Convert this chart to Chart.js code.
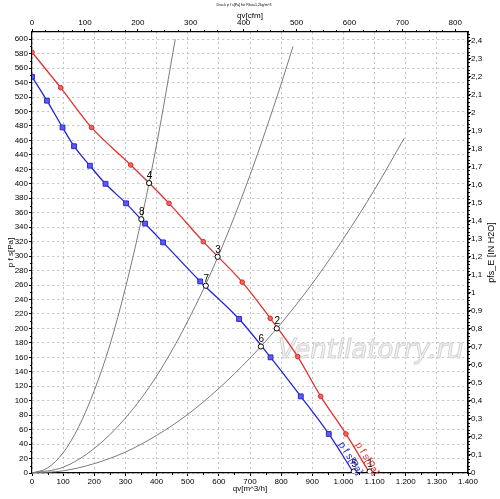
<!DOCTYPE html>
<html><head><meta charset="utf-8">
<script src="https://cdn.jsdelivr.net/npm/chart.js@4.4.1/dist/chart.umd.min.js"></script>
<style>html,body{margin:0;padding:0;background:#fff}#wrap{width:500px;height:499px;position:relative}</style>
</head><body><div id="wrap"><canvas id="c"></canvas></div>
<script>
// ---- data ----
const redQ = [0, 92, 191, 317, 440, 550, 675, 765, 853, 927, 1008, 1084];
const redP = [582, 533, 478, 426, 373, 320, 264, 214, 161, 106, 54, 0];
const blueQ = [0, 48, 98, 135, 186, 236, 302, 363, 421, 540, 665, 766, 863, 953, 1033];
const blueP = [548, 515, 478, 452, 425, 400, 373, 345, 319, 265, 213, 160, 106, 54, 0];
const sys1Q = [0, 50, 100, 150, 200, 250, 300, 350, 400, 460];
const sys1P = [0, 7, 28, 64, 114, 177, 256, 348, 454, 600];
const sys2Q = [0, 100, 200, 300, 400, 500, 600, 700, 800, 838];
const sys2P = [0, 8, 34, 76, 134, 210, 302, 412, 538, 590];
const sys3Q = [0, 100, 200, 300, 400, 500, 600, 700, 800, 900, 1000, 1100, 1195];
const sys3P = [0, 3, 13, 29, 52, 81, 117, 159, 207, 262, 324, 392, 463];
const opQ = [1084, 786, 596, 376, 1033, 735, 558, 351];
const opP = [2, 200, 299, 401, 2, 175, 259, 351];
const opLabels = ['1', '2', '3', '4', '5', '6', '7', '8'];
const curveLabels = ['p f s[Pa]', 'p f s[Pa]'];
const titleText = 'Druck p f s[Pa] für Rho=1,2kg/m^3';
const xTitle = 'qv[m^3/h]';
const x2Title = 'qv[cfm]';
const yTitle = 'p f s[Pa]';
const y2Title = 'pfs_E [IN H2O]';
const watermark = 'Ventilatorry.ru';

const PA_PER_INH2O = 249.089;
const M3H_PER_CFM = 1.69901;
const Q_MAX = 1400, P_MAX = 610;

const zip = (a, b) => a.map((v, i) => ({x: v, y: b[i]}));
const FONT = '"Liberation Sans", Arial, sans-serif';
Chart.defaults.font.family = FONT;
Chart.defaults.font.size = 8;
Chart.defaults.color = '#000';

const RED = '#e3302c', BLUE = '#2424d6', GREY = '#7a7a7a';

const fmtQ = v => v >= 1000 ? (Math.floor(v / 1000) + '.' + String(v % 1000).padStart(3, '0')) : String(v);

const overlay = {
  id: 'overlay',
  beforeDatasetsDraw(chart) {
    const ctx = chart.ctx;
    ctx.save();
    ctx.font = 'italic 26px "DejaVu Sans", sans-serif';
    ctx.textBaseline = 'alphabetic';
    ctx.fillStyle = '#f3f3f3';
    ctx.strokeStyle = '#d4d4d4';
    ctx.lineWidth = 1;
    ctx.fillText(watermark, 278, 358);
    ctx.strokeText(watermark, 278, 358);
    ctx.restore();
  },
  afterDatasetsDraw(chart) {
    const ctx = chart.ctx;
    ctx.save();
    const opMeta = chart.getDatasetMeta(0);
    ctx.font = '10px ' + FONT;
    ctx.fillStyle = '#000';
    ctx.textAlign = 'center';
    ctx.textBaseline = 'middle';
    opMeta.data.forEach((pt, i) => {
      ctx.fillText(opLabels[i], pt.x + 0.5, pt.y - 7);
    });
    [[1, RED], [2, BLUE]].forEach(([di, col], k) => {
      const pts = chart.getDatasetMeta(di).data;
      const a = pts[pts.length - 2], b = pts[pts.length - 1];
      const ang = Math.atan2(b.y - a.y, b.x - a.x);
      const ax = a.x + 0.3 * (b.x - a.x), ay = a.y + 0.3 * (b.y - a.y);
      ctx.save();
      ctx.translate(ax, ay);
      ctx.rotate(ang);
      ctx.font = '10px ' + FONT;
      ctx.fillStyle = col;
      ctx.textAlign = 'left';
      ctx.textBaseline = 'alphabetic';
      ctx.fillText(curveLabels[k], 0, -2.5);
      ctx.restore();
    });
    ctx.restore();
  },
  afterDraw(chart) {
    const ctx = chart.ctx;
    const {x, x2, y, y2} = chart.scales;
    const ca = chart.chartArea;
    ctx.save();
    ctx.strokeStyle = '#000';
    ctx.lineWidth = 1;
    ctx.beginPath();
    for (let v = 10; v < P_MAX; v += 20) {
      const py = Math.round(y.getPixelForValue(v)) + 0.5;
      ctx.moveTo(ca.left, py); ctx.lineTo(ca.left - 2, py);
    }
    for (let v = 0; v <= y2.max; v += 0.02) {
      const py = Math.round(y2.getPixelForValue(v)) + 0.5;
      ctx.moveTo(ca.right, py); ctx.lineTo(ca.right + 2, py);
    }
    for (let v = 50; v < Q_MAX; v += 100) {
      const px = Math.round(x.getPixelForValue(v)) + 0.5;
      ctx.moveTo(px, ca.bottom); ctx.lineTo(px, ca.bottom + 2);
    }
    for (let v = 25; v < x2.max; v += 25) {
      if (v % 100 === 0) continue;
      const px = Math.round(x2.getPixelForValue(v)) + 0.5;
      ctx.moveTo(px, ca.top); ctx.lineTo(px, ca.top - 2);
    }
    ctx.stroke();
    ctx.fillStyle = '#000';
    ctx.font = '3.6px ' + FONT;
    ctx.textAlign = 'center';
    ctx.textBaseline = 'middle';
    ctx.fillText(titleText, 244, 5);
    ctx.font = '9px ' + FONT;
    ctx.translate(491.5, (ca.top + ca.bottom) / 2);
    ctx.rotate(-Math.PI / 2);
    ctx.fillText(y2Title, 0, 0);
    ctx.restore();
  }
};

new Chart(document.getElementById('c'), {
  type: 'scatter',
  data: {
    datasets: [
      { data: zip(opQ, opP), showLine: false, pointRadius: 2.6, pointBackgroundColor: '#fff',
        pointBorderColor: '#000', pointBorderWidth: 1, xAxisID: 'x', yAxisID: 'y' },
      { data: zip(redQ, redP), showLine: true, borderColor: RED, borderWidth: 1.3,
        cubicInterpolationMode: 'monotone', pointStyle: 'circle',
        pointRadius: ctx => ctx.dataIndex === redQ.length - 1 ? 0 : 2.3,
        pointBackgroundColor: '#f26464', pointBorderColor: '#d82a26', pointBorderWidth: 1,
        xAxisID: 'x', yAxisID: 'y' },
      { data: zip(blueQ, blueP), showLine: true, borderColor: BLUE, borderWidth: 1.3,
        cubicInterpolationMode: 'monotone', pointStyle: 'rect',
        pointRadius: ctx => ctx.dataIndex === blueQ.length - 1 ? 0 : 3.4,
        pointBackgroundColor: '#5c5cf2', pointBorderColor: '#2a2ad0', pointBorderWidth: 1,
        xAxisID: 'x', yAxisID: 'y' },
      { data: zip(sys1Q, sys1P), showLine: true, borderColor: GREY, borderWidth: 1, pointRadius: 0,
        cubicInterpolationMode: 'monotone', xAxisID: 'x', yAxisID: 'y' },
      { data: zip(sys2Q, sys2P), showLine: true, borderColor: GREY, borderWidth: 1, pointRadius: 0,
        cubicInterpolationMode: 'monotone', xAxisID: 'x', yAxisID: 'y' },
      { data: zip(sys3Q, sys3P), showLine: true, borderColor: GREY, borderWidth: 1, pointRadius: 0,
        cubicInterpolationMode: 'monotone', xAxisID: 'x', yAxisID: 'y' }
    ]
  },
  options: {
    responsive: true,
    maintainAspectRatio: false,
    animation: false,
    layout: { padding: 0 },
    plugins: { legend: { display: false }, tooltip: { enabled: false }, title: { display: false } },
    scales: {
      x: { type: 'linear', position: 'bottom', min: 0, max: Q_MAX,
        ticks: { stepSize: 100, autoSkip: false, maxRotation: 0, padding: 1, callback: fmtQ },
        grid: { color: '#c2c2c2', lineWidth: 1, tickLength: 3, tickColor: '#000', tickWidth: 1 },
        border: { color: '#000', width: 1.2, dash: [2, 3] },
        title: { display: true, text: xTitle, padding: { top: 0, bottom: 5 } },
        afterFit: s => { s.height = 26; } },
      x2: { type: 'linear', position: 'top', min: 0, max: Q_MAX / M3H_PER_CFM,
        ticks: { stepSize: 100, includeBounds: false, autoSkip: false, maxRotation: 0, padding: 1 },
        grid: { drawOnChartArea: false, tickLength: 3, tickColor: '#000' },
        border: { color: '#000', width: 1.2 },
        title: { display: true, text: x2Title, padding: { top: 11, bottom: 0 } },
        afterFit: s => { s.height = 32; } },
      y: { type: 'linear', position: 'left', min: 0, max: P_MAX,
        ticks: { stepSize: 20, includeBounds: false, autoSkip: false, padding: 1 },
        grid: { color: '#c2c2c2', lineWidth: 1, tickLength: 3, tickColor: '#000' },
        border: { color: '#000', width: 1.2, dash: [2, 3] },
        title: { display: true, text: yTitle, padding: { top: 6, bottom: 0 } },
        afterFit: s => { s.width = 32; } },
      y2: { type: 'linear', position: 'right', min: 0, max: P_MAX / PA_PER_INH2O,
        ticks: { stepSize: 0.1, includeBounds: false, autoSkip: false, padding: 0,
          callback: v => String(Math.round(v * 10) / 10).replace('.', ',') },
        grid: { drawOnChartArea: false, tickLength: 3, tickColor: '#000' },
        border: { color: '#000', width: 1.6 },
        title: { display: false },
        afterFit: s => { s.width = 32; } }
    }
  },
  plugins: [overlay]
});
</script>
</body></html>
